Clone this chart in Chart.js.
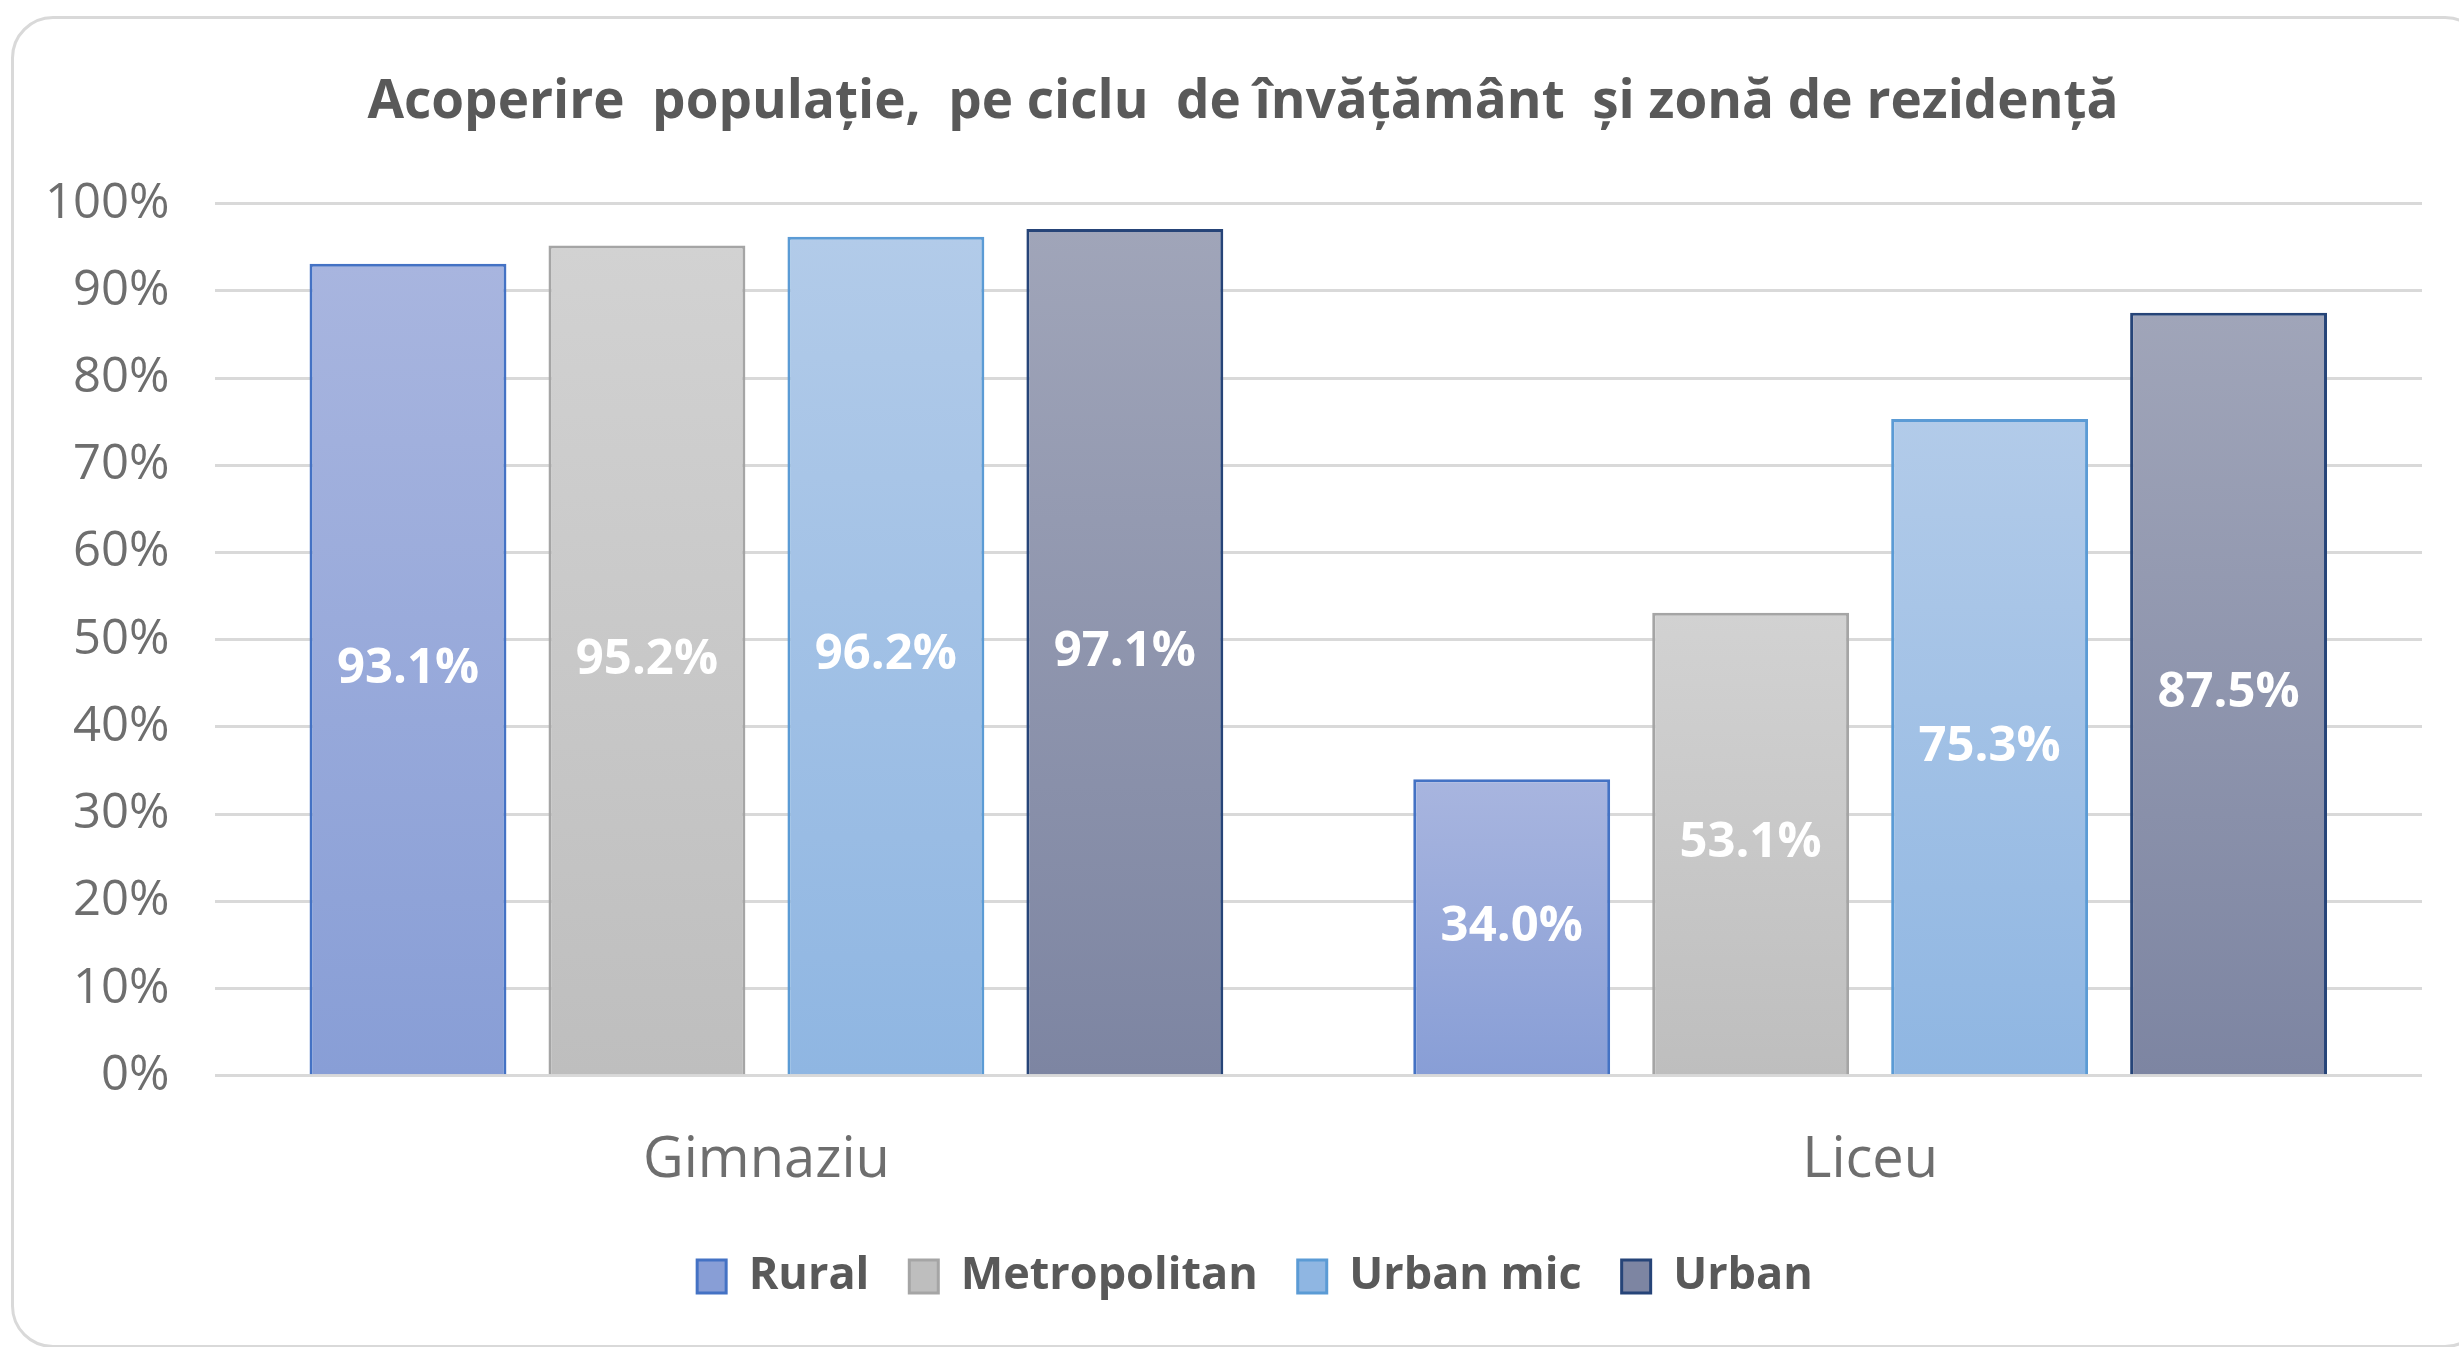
<!DOCTYPE html>
<html lang="ro">
<head>
    <meta charset="UTF-8">
    <title>Acoperire populație</title>
    <script src="https://cdn.jsdelivr.net/npm/chart.js"></script>
    <style>
        html, body {
            margin: 0;
            padding: 0;
            background: #ffffff;
            overflow: hidden;
        }

        #frame {
            position: absolute;
            left: 11px;
            top: 16px;
            width: 2470px;
            height: 1326px;
            border: 3px solid #d9d9d9;
            border-radius: 42px;
        }

        #wrap {
            position: absolute;
            left: 0;
            top: 0;
            width: 2459px;
            height: 1347px;
        }
    </style>
</head>
<body>
    <div id="frame"></div>
    <div id="wrap"><canvas id="coverageChart"></canvas></div>

    <script>
        const categories = ['Gimnaziu', 'Liceu'];
        const seriesNames = ['Rural', 'Metropolitan', 'Urban mic', 'Urban'];
        const rural = [93.1, 34.0];
        const metropolitan = [95.2, 53.1];
        const urbanMic = [96.2, 75.3];
        const urban = [97.1, 87.5];
        const yTicks = [0, 10, 20, 30, 40, 50, 60, 70, 80, 90, 100];

        const palette = [
            { top: '#a8b5df', bottom: '#889ed6', border: '#4472c4' },
            { top: '#d2d2d2', bottom: '#bebebe', border: '#a5a5a5' },
            { top: '#b2cbe9', bottom: '#8fb6e2', border: '#5b9bd5' },
            { top: '#a0a5b9', bottom: '#7d85a2', border: '#264478' }
        ];

        function barFill(idx) {
            return function (ctx) {
                const c = palette[idx];
                if (ctx.type !== 'data' || !ctx.chart.chartArea) return c.bottom;
                const y = ctx.chart.scales.y;
                const top = y.getPixelForValue(ctx.raw);
                const base = y.getPixelForValue(0);
                const g = ctx.chart.ctx.createLinearGradient(0, top, 0, base);
                g.addColorStop(0, c.top);
                g.addColorStop(1, c.bottom);
                return g;
            };
        }

        // white value labels in the middle of each bar
        const valueLabels = {
            id: 'valueLabels',
            afterDatasetsDraw(chart) {
                const ctx = chart.ctx;
                ctx.save();
                ctx.fillStyle = '#ffffff';
                ctx.font = 'bold 49px "Open Sans"';
                ctx.textAlign = 'center';
                ctx.textBaseline = 'middle';
                chart.data.datasets.forEach((ds, i) => {
                    chart.getDatasetMeta(i).data.forEach((bar, j) => {
                        const v = ds.data[j];
                        ctx.fillText(v.toFixed(1) + '%', bar.x, (bar.y + bar.base) / 2);
                    });
                });
                ctx.restore();
            }
        };

        // title and legend are centred on the frame, not on the plot
        const nudgeBlocks = {
            id: 'nudgeBlocks',
            afterLayout(chart) {
                chart.titleBlock.left += 32;
                chart.titleBlock.right += 32;
                chart.legend.left += 44;
                chart.legend.right += 44;
            }
        };

        const seriesData = [rural, metropolitan, urbanMic, urban];

        const datasets = seriesNames.map((name, i) => ({
            label: name,
            data: seriesData[i],
            backgroundColor: barFill(i),
            borderColor: palette[i].border,
            borderWidth: 3,
            borderSkipped: 'bottom',
            barPercentage: 0.824,
            categoryPercentage: 0.866
        }));

        const ctx = document.getElementById('coverageChart').getContext('2d');
        new Chart(ctx, {
            type: 'bar',
            data: {
                labels: categories,
                datasets: datasets
            },
            plugins: [valueLabels, nudgeBlocks],
            options: {
                responsive: true,
                maintainAspectRatio: false,
                animation: false,
                layout: {
                    padding: { top: 71, left: 0, right: 37, bottom: 38 }
                },
                plugins: {
                    title: {
                        display: true,
                        text: 'Acoperire  populație,  pe ciclu  de învățământ  și zonă de rezidență',
                        color: '#595959',
                        font: { family: '"Open Sans"', size: 53, weight: 'bold' },
                        padding: { top: 0, bottom: 69 }
                    },
                    legend: {
                        position: 'bottom',
                        labels: {
                            color: '#595959',
                            font: { family: '"Open Sans"', size: 45, weight: 'bold' },
                            boxWidth: 29,
                            boxHeight: 33,
                            padding: 40
                        }
                    },
                    tooltip: { enabled: false }
                },
                scales: {
                    x: {
                        grid: { display: false },
                        border: { display: false },
                        ticks: {
                            color: '#6e6e6e',
                            font: { family: '"Open Sans"', size: 56 },
                            padding: 44
                        },
                        afterFit(axis) {
                            axis.height -= 25;
                        }
                    },
                    y: {
                        min: 0,
                        max: 100,
                        afterBuildTicks(axis) {
                            axis.ticks = yTicks.map(v => ({ value: v }));
                        },
                        grid: {
                            color: '#d9d9d9',
                            lineWidth: 3,
                            drawTicks: false
                        },
                        border: { display: false },
                        ticks: {
                            color: '#6e6e6e',
                            font: { family: '"Open Sans"', size: 49 },
                            padding: 45,
                            callback: v => v + '%'
                        }
                    }
                }
            }
        });
    </script>
</body>
</html>
